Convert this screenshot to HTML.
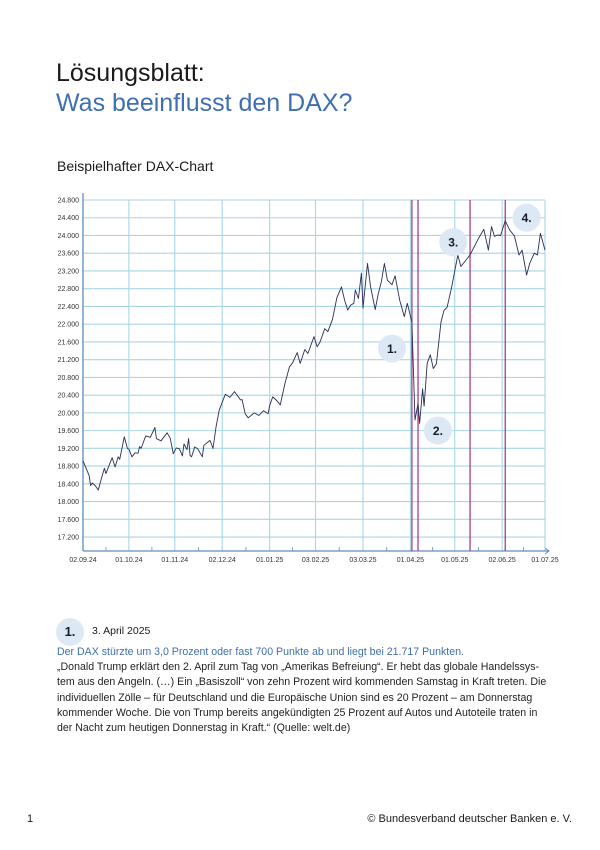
<!DOCTYPE html>
<html><head><meta charset="utf-8"><style>
body{margin:0;background:#fff;font-family:"Liberation Sans",sans-serif;}
#page{position:relative;width:600px;height:850px;overflow:hidden;background:#fff}
.t{position:absolute;white-space:nowrap}
</style></head><body>
<div id="page">
<div class="t" style="left:56px;top:59px;font-size:25px;color:#1a1a1a">Lösungsblatt:</div>
<div class="t" style="left:56px;top:89px;font-size:25px;color:#3f6fb0">Was beeinflusst den DAX?</div>
<div class="t" style="left:57px;top:158px;font-size:14px;color:#1a1a1a">Beispielhafter DAX-Chart</div>
<svg id="chart" width="600" height="600" style="position:absolute;left:0;top:0"></svg>
<div style="position:absolute;left:56px;top:618px;width:28px;height:28px;border-radius:50%;background:#dce9f4;font-weight:bold;font-size:13px;line-height:28px;text-align:center;color:#1a1a2e">1.</div>
<div class="t" style="left:92px;top:625px;font-size:10.5px;color:#1a1a1a">3. April 2025</div>
<div style="position:absolute;left:57px;top:645px;font-size:10.6px;line-height:15.2px;color:#222">
<div style="color:#3f6fb0;white-space:nowrap">Der DAX stürzte um 3,0 Prozent oder fast 700 Punkte ab und liegt bei 21.717 Punkten.</div>
<div style="white-space:nowrap">„Donald Trump erklärt den 2. April zum Tag von „Amerikas Befreiung“. Er hebt das globale Handelssys-</div>
<div style="white-space:nowrap">tem aus den Angeln. (…) Ein „Basiszoll“ von zehn Prozent wird kommenden Samstag in Kraft treten. Die</div>
<div style="white-space:nowrap">individuellen Zölle – für Deutschland und die Europäische Union sind es 20 Prozent – am Donnerstag</div>
<div style="white-space:nowrap">kommender Woche. Die von Trump bereits angekündigten 25 Prozent auf Autos und Autoteile traten in</div>
<div style="white-space:nowrap">der Nacht zum heutigen Donnerstag in Kraft.“ (Quelle: welt.de)</div>
</div>
<div class="t" style="left:27px;top:813px;font-size:11px;color:#1a1a1a">1</div>
<div class="t" style="right:28px;top:813px;font-size:11px;color:#1a1a1a">© Bundesverband deutscher Banken e. V.</div>
</div>
<script>
const dayIdx=[0,2,4,5,6,8,10,12,14,15,16,19,21,23,24,27,29,30,32,34,36,37,38,41,44,47,48,51,55,57,59,61,63,65,66,68,69,70,71,73,75,78,79,83,85,87,89,93,96,99,103,104,106,108,112,115,118,121,122,124,126,129,132,135,137,140,142,145,147,151,153,155,158,160,163,166,169,171,173,175,177,178,180,182,183,186,188,191,193,195,197,199,202,204,207,210,212,215,217,219,220,222,223,225,227,229,231,234,236,238,241,245,247,253,258,262,265,267,269,271,273,276,279,282,285,287,290,292,295,297,299,302];
const dax=[18920,18750,18590,18360,18420,18360,18260,18520,18750,18630,18720,18990,18780,19010,18950,19460,19200,19180,19010,19100,19090,19240,19200,19480,19450,19670,19420,19370,19550,19430,19080,19210,19190,19030,19300,19170,19420,19040,19010,19230,19190,19010,19270,19380,19200,19690,20060,20420,20350,20480,20290,20300,19980,19890,20000,19940,20050,19980,20160,20360,20300,20180,20660,21040,21130,21360,21115,21430,21340,21720,21490,21600,21900,21830,22100,22600,22840,22540,22320,22430,22470,22770,22580,23150,22360,23370,22840,22330,22690,22950,23370,22990,22890,23090,22540,22170,22470,22050,19840,20210,19760,20540,20150,21120,21310,21000,21110,22050,22310,22380,22840,23560,23300,23560,23900,24140,23670,24200,23980,24010,24000,24330,24120,23990,23560,23670,23110,23370,23600,23560,24050,23670];
const yTicks=[17200,17600,18000,18400,18800,19200,19600,20000,20400,20800,21200,21600,22000,22400,22800,23200,23600,24000,24400,24800];
const xTickDays=[0,30,60,91,122,152,183,214,243,274,302];
const xTickLabels=["02.09.24","01.10.24","01.11.24","02.12.24","01.01.25","03.02.25","03.03.25","01.04.25","01.05.25","02.06.25","01.07.25"];
const markerDays=[215,219,253,276];
const badgeLabels=["1.","2.","3.","4."];
const badgeDays=[202,232,242,290];
const badgeVals=[21450,19600,23850,24400];

const X0=83,X1=545,Y0=551;
function xs(d){return X0+d*(X1-X0)/302;}
function ys(v){return 200+(24800-v)/400*17.74;}
const svg=document.getElementById('chart');
const NS='http://www.w3.org/2000/svg';
function mk(tag,attrs){const e=document.createElementNS(NS,tag);for(const k in attrs)e.setAttribute(k,attrs[k]);svg.appendChild(e);return e;}
yTicks.forEach(v=>{
  const l=mk('line',{x1:X0,x2:X1,y1:ys(v),y2:ys(v),stroke:'#a9d6e5','stroke-width':1.1});
  
  
  const t=mk('text',{x:X0-4,y:ys(v)+2.5,'text-anchor':'end','font-size':7,fill:'#333','font-family':'Liberation Sans, sans-serif'});
  t.textContent=v.toLocaleString('de-DE');
  
  
});
xTickDays.forEach((d,i)=>{
  const l=mk('line',{x1:xs(d),x2:xs(d),y1:ys(24800),y2:Y0,stroke:'#a9d6e5','stroke-width':1.1});
  
  
  const t=mk('text',{x:xs(d),y:Y0+11,'text-anchor':'middle','font-size':7,fill:'#333','font-family':'Liberation Sans, sans-serif'});
  t.textContent=xTickLabels[i];
  
  
  if(i<xTickDays.length-1){
    const m=mk('line',{x1:xs((d+xTickDays[i+1])/2),x2:xs((d+xTickDays[i+1])/2),y1:Y0-4,y2:Y0,stroke:'#7fa8c9','stroke-width':1});
    
    
  }
});
const ya=mk('line',{x1:X0,x2:X0,y1:193,y2:Y0,stroke:'#5f8fc2','stroke-width':1.3});


const xa=mk('line',{x1:X0,x2:X1+4,y1:Y0,y2:Y0,stroke:'#5f8fc2','stroke-width':1.3});


const xar=mk('polyline',{points:(X1)+','+(Y0-3)+' '+(X1+4)+','+Y0+' '+(X1)+','+(Y0+3),fill:'none',stroke:'#5f8fc2','stroke-width':1});


markerDays.forEach(d=>{
  const l=mk('line',{x1:xs(d),x2:xs(d),y1:ys(24800),y2:Y0,stroke:'#a0307f','stroke-width':1.2});
  
  
});
const pts=dayIdx.map((d,i)=>xs(d).toFixed(1)+','+ys(dax[i]).toFixed(1)).join(' ');
const pl=mk('polyline',{points:pts,fill:'none',stroke:'#2a2f55','stroke-width':0.9,'stroke-linejoin':'round'});


badgeLabels.forEach((b,i)=>{
  const c=mk('circle',{cx:xs(badgeDays[i]),cy:ys(badgeVals[i]),r:14,fill:'#dce9f4'});
  
  
  const t=mk('text',{x:xs(badgeDays[i]),y:ys(badgeVals[i])+4.5,'text-anchor':'middle','font-size':12,'font-weight':'bold',fill:'#1a1a2e','font-family':'Liberation Sans, sans-serif'});
  t.textContent=b;
  
  
});
</script>
</body></html>
